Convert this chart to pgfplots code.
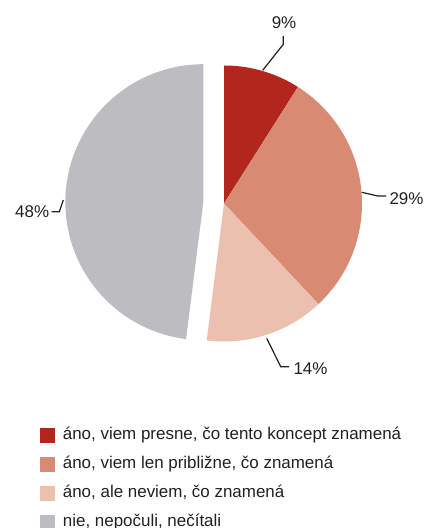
\documentclass[border=0pt]{standalone}
\usepackage{fontspec}
\setmainfont{Liberation Sans}
\usepackage{pgfplots}
\pgfplotsset{compat=1.18}
\definecolor{cA}{HTML}{B3261E}
\definecolor{cB}{HTML}{D98A72}
\definecolor{cC}{HTML}{EBC0AF}
\definecolor{cD}{HTML}{BDBDC1}
\definecolor{txt}{HTML}{231F20}
% shares (percent)
\def\vA{9}\def\vB{29}\def\vC{14}\def\vD{48}
\pgfmathsetmacro{\aO}{90}
\pgfmathsetmacro{\aA}{\aO-3.6*\vA}
\pgfmathsetmacro{\aB}{\aA-3.6*\vB}
\pgfmathsetmacro{\aC}{\aB-3.6*\vC}
\pgfmathsetmacro{\aD}{\aC-3.6*\vD}
\pgfmathsetmacro{\aM}{(\aC+\aD)/2}
\def\cx{224}\def\cy{324.5}\def\R{138}
\pgfmathsetmacro{\dx}{\cx+20.7*cos(\aM)}
\pgfmathsetmacro{\dy}{\cy+20.7*sin(\aM)}
\begin{document}
\fontsize{16.95bp}{20bp}\selectfont
\begin{tikzpicture}
\begin{axis}[
  at={(0,0)}, anchor=south west,
  width=425bp, height=528bp, scale only axis,
  xmin=0, xmax=425, ymin=0, ymax=528,
  hide axis, clip=false,
  legend image code/.code={\fill[#1] (0bp,-7.6bp) rectangle (15.8bp,7.6bp);},
  legend cell align=left,
  legend style={at={(axis cs:39.3,100.9)}, anchor=north west, draw=none, fill=none,
    inner sep=0pt, font=\fontsize{16.95bp}{20bp}\selectfont, text=txt,
    row sep=13.4bp,
    nodes={inner sep=0pt, text height=12.1bp, text depth=3.6bp},
    /tikz/every odd column/.append style={column sep=7.6bp}},
]
\addplot[fill=cA, draw=none, domain=\aA:\aO, samples=40, variable=\t]
  ({\cx+\R*cos(t)},{\cy+\R*sin(t)}) -- (axis cs:\cx,\cy) -- cycle;
\addlegendentry{áno, viem presne, čo tento koncept znamená}
\addplot[fill=cB, draw=none, domain=\aB:\aA, samples=80, variable=\t]
  ({\cx+\R*cos(t)},{\cy+\R*sin(t)}) -- (axis cs:\cx,\cy) -- cycle;
\addlegendentry{áno, viem len približne, čo znamená}
\addplot[fill=cC, draw=none, domain=\aC:\aB, samples=50, variable=\t]
  ({\cx+\R*cos(t)},{\cy+\R*sin(t)}) -- (axis cs:\cx,\cy) -- cycle;
\addlegendentry{áno, ale neviem, čo znamená}
\addplot[fill=cD, draw=none, domain=\aD:\aC, samples=120, variable=\t]
  ({\dx+\R*cos(t)},{\dy+\R*sin(t)}) -- (axis cs:\dx,\dy) -- cycle;
\addlegendentry{nie, nepočuli, nečítali}
% leader lines and labels
\draw[txt, line width=1.2bp] (axis cs:262.7,457.7) -- (axis cs:283.3,483.7) -- (axis cs:283.3,492);
\node[txt, inner sep=0pt, anchor=center] at (axis cs:284,505) {\vA\%};
\draw[txt, line width=1.2bp] (axis cs:361.7,335.7) -- (axis cs:377.7,332) -- (axis cs:386,332);
\node[txt, inner sep=0pt, anchor=west] at (axis cs:389.3,329.7) {\vB\%};
\draw[txt, line width=1.2bp] (axis cs:266.7,189.7) -- (axis cs:280.7,161.3) -- (axis cs:289,161.3);
\node[txt, inner sep=0pt, anchor=west] at (axis cs:293.3,159) {\vC\%};
\draw[txt, line width=1.2bp] (axis cs:63.3,328) -- (axis cs:59.3,316.3) -- (axis cs:51.7,316.3);
\node[txt, inner sep=0pt, anchor=east] at (axis cs:49.3,316.3) {\vD\%};
\end{axis}
\pgfresetboundingbox
\useasboundingbox (0,0) rectangle (425bp,528bp);
\end{tikzpicture}
\end{document}
